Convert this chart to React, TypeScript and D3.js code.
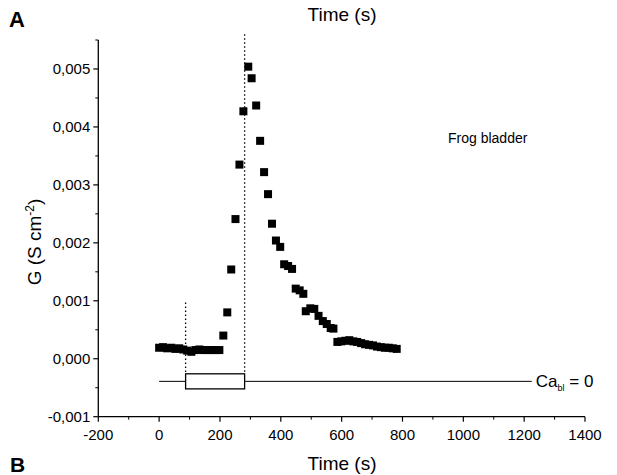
import React from "react";
import * as d3 from "d3";

const timeSec = [0, 13, 26, 40, 53, 66, 79, 92, 106, 119, 132, 145, 158, 172, 185, 198,
  211, 224, 237, 251, 264, 277, 293, 304, 319, 332, 345, 358, 371, 384, 398, 411, 424, 437,
  449, 462, 474, 482, 497, 510, 524, 538, 551, 564, 573,
  586, 599, 612, 625, 638, 651, 664, 677, 690, 703, 716, 729, 742, 755, 768, 781];
const conductance = [0.00019, 0.0002, 0.00018, 0.00019, 0.00017, 0.00018, 0.00016, 0.00014, 0.00012, 0.00015, 0.00016, 0.00015, 0.00015, 0.00015, 0.00015, 0.00015,
  0.0004, 0.0008, 0.00154, 0.00241, 0.00335, 0.00427, 0.00504, 0.00484, 0.00437, 0.00376, 0.00322, 0.00284, 0.00233, 0.00204, 0.00193, 0.00163, 0.0016, 0.00155,
  0.00121, 0.00118, 0.00112, 0.00082, 0.00087, 0.00086, 0.00074, 0.00065, 0.0006, 0.00053, 0.00052,
  0.00029, 0.0003, 0.00031, 0.00032, 0.0003, 0.00029, 0.00027, 0.00025, 0.00024, 0.00023, 0.00021, 0.0002, 0.00019, 0.00019, 0.00018, 0.00017];

const xTicks = [-200, 0, 200, 400, 600, 800, 1000, 1200, 1400];
const yTicks = [-0.001, 0, 0.001, 0.002, 0.003, 0.004, 0.005];

// Ca-free period markers
const caStart = 87;
const caEnd = 281;
const caLineStart = 0;
const caLineEnd = 1225;
const caLevel = -0.00039;
const caBoxTop = -0.00026;
const caBoxBottom = -0.00052;
const startMarkTop = 0.00097;
const endMarkTop = 0.0056;

export default function App() {
  const W = 617, H = 475;
  const x = d3.scaleLinear().domain([-200, 1400]).range([98.3, 585]);
  const y = d3.scaleLinear().domain([-0.001, 0.0055]).range([416.7, 40]);
  const xMinor = d3.range(-200, 1401, 100).filter((v) => !xTicks.includes(v));
  const yMinor = d3.range(-0.001, 0.00551, 0.0005).filter((v) => !yTicks.some((t) => Math.abs(t - v) < 1e-9));
  const fmt = (v: number) => {
    const s = d3.format(".3f")(Math.abs(v) < 1e-12 ? 0 : v).replace(".", ",").replace("−", "-");
    return s;
  };
  const font = "Arial, 'Liberation Sans', sans-serif";
  const x0 = x.range()[0];
  const yb = y.range()[0];
  const sz = 8;
  return (
    <svg width={W} height={H} style={{ position: "absolute", left: 0, top: 0, background: "#fff" }} fontFamily={font}>
      <rect x={0} y={0} width={W} height={H} fill="#fff" />
      <text x={9} y={27} fontSize={22} fontWeight="bold">A</text>
      <text x={10} y={472} fontSize={21} fontWeight="bold">B</text>
      <text x={342} y={21} fontSize={19} textAnchor="middle">Time (s)</text>
      <text x={342} y={470} fontSize={19} textAnchor="middle">Time (s)</text>

      {/* axes */}
      <line x1={x0} x2={x0} y1={y(0.0055)} y2={yb} stroke="#000" strokeWidth={1.3} />
      <line x1={x0} x2={x(1400)} y1={yb} y2={yb} stroke="#000" strokeWidth={1.3} />
      {yTicks.map((t) => (
        <g key={"yt" + t}>
          <line x1={x0 - 5} x2={x0} y1={y(t)} y2={y(t)} stroke="#000" strokeWidth={1.2} />
          <text x={x0 - 8} y={y(t) + 5} fontSize={15} textAnchor="end">{fmt(t)}</text>
        </g>
      ))}
      {yMinor.map((t) => (
        <line key={"ym" + t} x1={x0 - 3} x2={x0} y1={y(t)} y2={y(t)} stroke="#000" strokeWidth={1} />
      ))}
      {xTicks.map((t) => (
        <g key={"xt" + t}>
          <line x1={x(t)} x2={x(t)} y1={yb} y2={yb + 5} stroke="#000" strokeWidth={1.2} />
          <text x={x(t)} y={yb + 23} fontSize={15} textAnchor="middle">{t}</text>
        </g>
      ))}
      {xMinor.map((t) => (
        <line key={"xm" + t} x1={x(t)} x2={x(t)} y1={yb} y2={yb + 3} stroke="#000" strokeWidth={1} />
      ))}
      <text transform={`translate(41,${242}) rotate(-90)`} fontSize={19} textAnchor="middle">
        G (S cm<tspan dy={-7} fontSize={12}>-2</tspan><tspan dy={7}>)</tspan>
      </text>

      {/* Ca-free markers */}
      <line x1={x(caStart)} x2={x(caStart)} y1={y(startMarkTop)} y2={y(caBoxTop)} stroke="#000" strokeWidth={1.3} strokeDasharray="1.5,2.5" />
      <line x1={x(caEnd)} x2={x(caEnd)} y1={y(endMarkTop)} y2={y(caBoxTop)} stroke="#000" strokeWidth={1.3} strokeDasharray="1.5,2.5" />
      <line x1={x(caLineStart)} x2={x(caLineEnd)} y1={y(caLevel)} y2={y(caLevel)} stroke="#000" strokeWidth={1} />
      <rect x={x(caStart)} y={y(caBoxTop)} width={x(caEnd) - x(caStart)} height={y(caBoxBottom) - y(caBoxTop)} fill="#fff" stroke="#000" strokeWidth={1.3} />
      <text x={x(caLineEnd) + 4} y={y(caLevel) + 6} fontSize={17}>
        Ca<tspan dy={4} fontSize={9}>bl</tspan><tspan dy={-4}> = 0</tspan>
      </text>

      <text x={448} y={143} fontSize={14}>Frog bladder</text>

      {timeSec.map((t, i) => (
        <rect key={"p" + i} x={x(t) - sz / 2} y={y(conductance[i]) - sz / 2} width={sz} height={sz} fill="#000" />
      ))}
    </svg>
  );
}
